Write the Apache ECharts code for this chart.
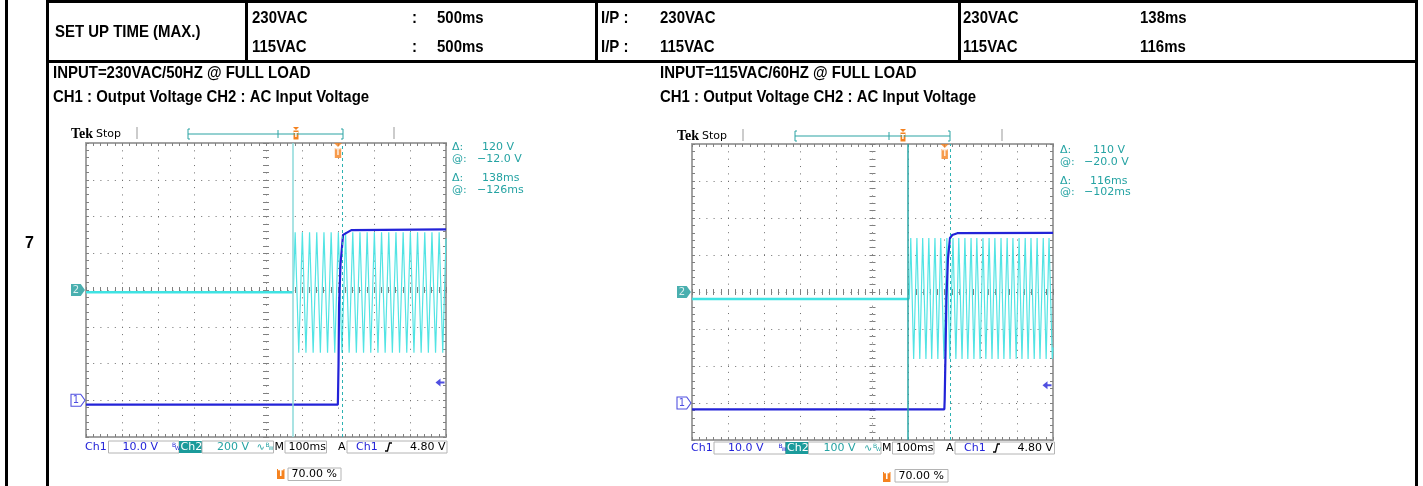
<!DOCTYPE html>
<html><head><meta charset="utf-8">
<script src="https://cdn.jsdelivr.net/npm/echarts@6/dist/echarts.min.js"></script>
<style>html,body{margin:0;padding:0;background:#fff}#c{width:1423px;height:486px}</style>
</head><body><div id="c"></div>
<script>
// ---------------- DATA ----------------
// time axis (ms, trigger at 0, 100 ms/div, trigger position 70 %)
const timeRange = [-700, 300];
const timeStep = 100;
// CH1 output voltage axis (10 V/div, ground 1 div above bottom)
const ch1Range = [-10, 70];
const ch1Step = 10;
// CH2 AC input voltage axes
const ch2RangeLeft = [-800, 800];   // 200 V/div
const ch2StepLeft = 200;
const ch2RangeRight = [-400, 400];  // 100 V/div
const ch2StepRight = 100;

// 230VAC / 50Hz scope
const ch1Left = [[-700,-1.2],[-0.5,-1.2],[0,1],[1.5,10],[3,26],[7,37],[14,45],[18,45.5],[37,46.3],[300,46.5]];
const ch2LeftIdle = [[-700,-12],[-124,-12]];
const ch2LeftAC = [[-124,-12],[-119,314],[-109,-341],[-99,314],[-89,-341],[-79,314],[-69,-341],[-59,314],[-49,-341],[-39,314],[-29,-341],[-19,314],[-9,-341],[1,314],[11,-341],[21,314],[31,-341],[41,314],[51,-341],[61,314],[71,-341],[81,314],[91,-341],[101,314],[111,-341],[121,314],[131,-341],[141,314],[151,-341],[161,314],[171,-341],[181,314],[191,-341],[201,314],[211,-341],[221,314],[231,-341],[241,314],[251,-341],[261,314],[271,-341],[281,314],[291,-341],[300,280]];
const cursorsLeft = [-126, 12];

// 115VAC / 60Hz scope
const ch1Right = [[-700,-1.7],[-1,-1.7],[0,1],[2,12],[4.7,28],[9,39],[14.7,44.6],[21,45.4],[35,45.9],[300,46]];
const ch2RightIdle = [[-700,-19],[-98,-19]];
const ch2RightAC = [[-98,-19],[-94,146],[-86,-181],[-77,146],[-69,-181],[-61,146],[-52,-181],[-44,146],[-36,-181],[-27,146],[-19,-181],[-11,146],[-2,-181],[6,146],[14,-181],[23,146],[31,-181],[39,146],[48,-181],[56,146],[64,-181],[73,146],[81,-181],[89,146],[98,-181],[106,146],[114,-181],[123,146],[131,-181],[139,146],[148,-181],[156,146],[164,-181],[173,146],[181,-181],[189,146],[198,-181],[206,146],[214,-181],[223,146],[231,-181],[239,146],[248,-181],[256,146],[264,-181],[273,146],[281,-181],[289,146],[298,-181],[300,-150]];
const cursorsRight = [-102, 14];

const triggerTime = 0;
const triggerLevel = 4.8;

// texts
const rowNumber = '7';
const setupLabel = 'SET UP TIME (MAX.)';
const setupSpecVolt = ['230VAC', '115VAC'];
const setupSpecTime = ['500ms', '500ms'];
const setupIP = ['230VAC', '115VAC'];
const setupMeasVolt = ['230VAC', '115VAC'];
const setupMeasTime = ['138ms', '116ms'];
const captionLeft = ['INPUT=230VAC/50HZ @ FULL LOAD', 'CH1 : Output Voltage CH2 : AC Input Voltage'];
const captionRight = ['INPUT=115VAC/60HZ @ FULL LOAD', 'CH1 : Output Voltage CH2 : AC Input Voltage'];
const readLeft = [['Δ:', '120 V'], ['@:', '−12.0 V'], ['Δ:', '138ms'], ['@:', '−126ms']];
const readRight = [['Δ:', '110 V'], ['@:', '−20.0 V'], ['Δ:', '116ms'], ['@:', '−102ms']];
const bottomLeft = { ch1: '10.0 V', ch2: '200 V', tb: '100ms', trig: '4.80 V', pos: '70.00 %' };
const bottomRight = { ch1: '10.0 V', ch2: '100 V', tb: '100ms', trig: '4.80 V', pos: '70.00 %' };

// ---------------- STYLE ----------------
const BLUE = '#2323d8', CYAN = '#3fe3e3', TEAL = '#1b9b9b', TEALTXT = '#25a3a3', ORANGE = '#f5821f';
const TF = "'Liberation Sans',Arial,sans-serif";
const SF = "'DejaVu Sans',sans-serif";

function T(x, y, s, o, el) {
  return Object.assign({ type: 'text', x: x, y: y, silent: true, z: 10,
    style: Object.assign({ text: s, fontFamily: SF, fontSize: 11, fill: '#000',
      align: 'left', verticalAlign: 'middle', textAlign: 'left', textVerticalAlign: 'middle' }, o || {}) }, el || {});
}
function R(x, y, w, h, o) {
  return { type: 'rect', silent: true, z: 5, shape: { x: x, y: y, width: w, height: h }, style: Object.assign({ fill: '#000' }, o || {}) };
}
function L(x1, y1, x2, y2, o) {
  return { type: 'line', silent: true, z: 6, shape: { x1: x1, y1: y1, x2: x2, y2: y2 }, style: Object.assign({ stroke: '#888', lineWidth: 1 }, o || {}) };
}
function PL(pts, o) {
  return { type: 'polyline', silent: true, z: 6, shape: { points: pts }, style: Object.assign({ stroke: '#000', lineWidth: 1, fill: null }, o || {}) };
}
function PG(pts, o) {
  return { type: 'polygon', silent: true, z: 6, shape: { points: pts }, style: Object.assign({ fill: ORANGE }, o || {}) };
}

// ---------------- SCOPES ----------------
const grids = [], xAxes = [], yAxes = [], series = [];
const frameLine = { show: true, onZero: false, lineStyle: { color: '#a2a2a2', width: 2 } };
const tickIn = { show: true, inside: true, length: 3, lineStyle: { color: '#808080', width: 1 } };
const minorIn = { show: true, splitNumber: 5, length: 3, lineStyle: { color: '#808080', width: 1 } };
const noLabel = { show: false };

function addScope(s, g, ch1, idle, ac, ch2Range, ch2Step, cursors, cursorColor) {
  const gi = 2 * s, ai = 4 * s;
  grids.push({ left: g.x, top: g.y, width: g.w, height: g.h, containLabel: false, outerBoundsMode: 'none' });
  grids.push({ left: g.x, top: g.y, width: g.w, height: g.h, containLabel: false, outerBoundsMode: 'none' });
  xAxes.push({ type: 'value', gridIndex: gi, min: timeRange[0], max: timeRange[1], interval: timeStep, position: 'bottom',
    axisLine: frameLine, axisTick: tickIn, minorTick: minorIn, axisLabel: noLabel,
    splitLine: { show: true, lineStyle: { color: '#6e6e6e', width: 1, type: [1, 6.35] } } });
  xAxes.push({ type: 'value', gridIndex: gi, min: timeRange[0], max: timeRange[1], interval: timeStep, position: 'top',
    axisLine: frameLine, axisTick: tickIn, minorTick: minorIn, axisLabel: noLabel, splitLine: { show: false } });
  const cTick = { show: true, inside: true, length: 3, lineStyle: { color: '#808080', width: 1 } };
  xAxes.push({ type: 'value', gridIndex: gi + 1, min: -5, max: 5, interval: 1, position: 'bottom',
    axisLine: { show: false, onZero: true, onZeroAxisIndex: ai + 2 }, axisTick: cTick, minorTick: minorIn, axisLabel: noLabel, splitLine: { show: false } });
  xAxes.push({ type: 'value', gridIndex: gi + 1, min: -5, max: 5, interval: 1, position: 'top',
    axisLine: { show: false, onZero: true, onZeroAxisIndex: ai + 3 }, axisTick: cTick, minorTick: minorIn, axisLabel: noLabel, splitLine: { show: false } });
  yAxes.push({ type: 'value', gridIndex: gi, min: ch1Range[0], max: ch1Range[1], interval: ch1Step, position: 'left',
    axisLine: frameLine, axisTick: tickIn, minorTick: minorIn, axisLabel: noLabel,
    splitLine: { show: true, lineStyle: { color: '#6e6e6e', width: 1, type: [1, 6.2] } } });
  yAxes.push({ type: 'value', gridIndex: gi, min: ch2Range[0], max: ch2Range[1], interval: ch2Step, position: 'right',
    axisLine: frameLine, axisTick: tickIn, minorTick: minorIn, axisLabel: noLabel, splitLine: { show: false } });
  yAxes.push({ type: 'value', gridIndex: gi + 1, min: -4, max: 4, interval: 1, position: 'left',
    axisLine: { show: false, onZero: true, onZeroAxisIndex: ai + 2 }, axisTick: cTick, minorTick: minorIn, axisLabel: noLabel, splitLine: { show: false } });
  yAxes.push({ type: 'value', gridIndex: gi + 1, min: -4, max: 4, interval: 1, position: 'right',
    axisLine: { show: false, onZero: true, onZeroAxisIndex: ai + 3 }, axisTick: cTick, minorTick: minorIn, axisLabel: noLabel, splitLine: { show: false } });

  series.push({ type: 'line', xAxisIndex: ai, yAxisIndex: ai + 1, data: idle, showSymbol: false, silent: true,
    lineStyle: { color: CYAN, width: 2.5 }, z: 2,
    markLine: { silent: true, symbol: ['none', 'none'], label: { show: false },
      data: [
        { xAxis: cursors[0], lineStyle: { color: cursorColor, width: 1.5, type: 'solid' } },
        { xAxis: cursors[1], lineStyle: { color: '#2cb2b2', width: 1, type: [3, 3] } }
      ] } });
  series.push({ type: 'line', xAxisIndex: ai, yAxisIndex: ai + 1, data: ac, showSymbol: false, silent: true,
    lineStyle: { color: '#52e4e4', width: 1.2 }, z: 2 });
  series.push({ type: 'line', xAxisIndex: ai, yAxisIndex: ai, data: ch1, showSymbol: false, silent: true,
    lineStyle: { color: BLUE, width: 2.2 }, z: 3 });
  series.push({ type: 'scatter', xAxisIndex: ai, yAxisIndex: ai, clip: false, silent: true, z: 6,
    data: [[triggerTime, ch1Range[1]]],
    symbol: 'path://M0,0L8,0L4,4ZM0.8,5L7.2,5L7.2,15L0.8,15Z', symbolSize: [8, 15], symbolOffset: [0, 7.5],
    itemStyle: { color: ORANGE },
    label: { show: true, formatter: 'T', position: 'inside', offset: [0, 2.5], color: '#fff', fontSize: 8, fontWeight: 'bold', fontFamily: SF } });
  series.push({ type: 'scatter', xAxisIndex: ai, yAxisIndex: ai, clip: false, silent: true, z: 6,
    data: [[timeRange[1], triggerLevel]],
    symbol: 'path://M0,4L5,0L5,3L9,3L9,5L5,5L5,8Z', symbolSize: [9, 8], symbolOffset: [-6, 0],
    itemStyle: { color: BLUE } });
  series.push({ type: 'scatter', xAxisIndex: ai, yAxisIndex: ai, clip: false, silent: true, z: 6,
    data: [[timeRange[0], 0]],
    symbol: 'path://M0,0L9,0L13,6L9,12L0,12Z', symbolSize: [14, 12], symbolOffset: [-8, 0],
    itemStyle: { color: '#fff', borderColor: BLUE, borderWidth: 1 },
    label: { show: true, formatter: '1', position: 'inside', offset: [-2, 0], color: BLUE, fontSize: 10, fontFamily: SF } });
  series.push({ type: 'scatter', xAxisIndex: ai, yAxisIndex: ai + 1, clip: false, silent: true, z: 6,
    data: [[timeRange[0], 0]],
    symbol: 'path://M0,0L9,0L13,6L9,12L0,12Z', symbolSize: [14, 12], symbolOffset: [-8, 0],
    itemStyle: { color: TEAL },
    label: { show: true, formatter: '2', position: 'inside', offset: [-2, 0], color: '#fff', fontSize: 10, fontFamily: SF } });
}

const GL = { x: 86, y: 143, w: 360, h: 294 };
const GR = { x: 692, y: 144, w: 361, h: 296 };
addScope(0, GL, ch1Left, ch2LeftIdle, ch2LeftAC, ch2RangeLeft, ch2StepLeft, cursorsLeft, '#8ddada');
addScope(1, GR, ch1Right, ch2RightIdle, ch2RightAC, ch2RangeRight, ch2StepRight, cursorsRight, '#2aa6a6');

// ---------------- GRAPHICS (table + scope annotations) ----------------
const G = [];
G.push(R(5, 0, 3, 486), R(46, 0, 3, 486), R(1415, 0, 3, 486));
G.push(R(46, 0, 1372, 3), R(46, 60, 1372, 3));
G.push(R(245, 0, 3, 62), R(595, 0, 3, 62), R(958, 0, 3, 62));
const tb = { fontFamily: TF, fontWeight: 'bold', fontSize: 17 };
const narrow = { scaleX: 0.88 };
G.push(T(25, 244, rowNumber, Object.assign({}, tb, { fontSize: 16 })));
G.push(T(55, 32, setupLabel, tb, narrow));
[18, 47].forEach(function (y, i) {
  G.push(T(252, y, setupSpecVolt[i], tb, narrow), T(412, y, ':', tb, narrow), T(437, y, setupSpecTime[i], tb, narrow));
  G.push(T(601, y, 'I/P :', tb, narrow), T(660, y, setupIP[i], tb, narrow));
  G.push(T(963, y, setupMeasVolt[i], tb, narrow), T(1140, y, setupMeasTime[i], tb, narrow));
});
G.push(T(53, 73, captionLeft[0], tb, narrow), T(53, 97, captionLeft[1], tb, narrow));
G.push(T(660, 73, captionRight[0], tb, narrow), T(660, 97, captionRight[1], tb, narrow));

function scopeDecor(o) {
  G.push(T(o.tek, o.sy, 'Tek', { fontFamily: "'Liberation Serif',serif", fontWeight: 'bold', fontSize: 14 }));
  G.push(T(o.tek + 25, o.sy, 'Stop', { fontSize: 11 }));
  G.push(L(o.sep1, o.sy - 7, o.sep1, o.sy + 5, { stroke: '#999' }), L(o.sep2, o.sy - 7, o.sep2, o.sy + 5, { stroke: '#999' }));
  const bc = { stroke: '#2aa3a3', lineWidth: 1 };
  G.push(L(o.b1, o.sy, o.b2, o.sy, bc));
  G.push(PL([[o.b1 + 2, o.sy - 5], [o.b1, o.sy - 5], [o.b1, o.sy + 5], [o.b1 + 2, o.sy + 5]], bc));
  G.push(PL([[o.b2 - 2, o.sy - 5], [o.b2, o.sy - 5], [o.b2, o.sy + 5], [o.b2 - 2, o.sy + 5]], bc));
  G.push(L(o.bt, o.sy - 4, o.bt, o.sy + 4, bc));
  G.push(PG([[o.bT - 3, o.sy - 7], [o.bT + 3, o.sy - 7], [o.bT, o.sy - 4]]));
  G.push(R(o.bT - 2.5, o.sy - 3.5, 5, 9, { fill: ORANGE }));
  G.push(T(o.bT, o.sy + 1, 'T', { fontSize: 7, fill: '#fff', fontWeight: 'bold', align: 'center', textAlign: 'center' }));
  o.read.forEach(function (r, i) {
    G.push(T(o.rx, o.ry[i], r[0], { fill: TEALTXT }));
    G.push(T(o.rv[i], o.ry[i], r[1], { fill: TEALTXT }));
  });
  const y = o.by, yt = o.by + 6, bs = { fill: '#fff', stroke: '#b4b4b4', lineWidth: 1 };
  const b = o.bx;
  G.push(T(b.ch1, yt, 'Ch1', { fill: BLUE }));
  G.push(R(b.box1[0], y, b.box1[1], 12, bs));
  G.push(T(b.box1[0] + 14, yt, o.bot.ch1, { fill: BLUE }));
  G.push(T(b.box1[0] + b.box1[1] - 7, y + 4, 'B', { fill: BLUE, fontSize: 6 }), T(b.box1[0] + b.box1[1] - 4, y + 8, 'W', { fill: BLUE, fontSize: 5 }));
  G.push(R(b.box1[0] + b.box1[1], y, 23, 12, { fill: TEAL }));
  G.push(T(b.box1[0] + b.box1[1] + 1.5, yt, 'Ch2', { fill: '#fff' }));
  const x2 = b.box1[0] + b.box1[1] + 23;
  G.push(R(x2, y, b.box2, 12, bs));
  G.push(T(x2 + 15, yt, o.bot.ch2, { fill: TEALTXT }));
  G.push(T(x2 + b.box2 - 17, yt, '∿', { fill: TEALTXT, fontSize: 10 }));
  G.push(T(x2 + b.box2 - 8, y + 4, 'B', { fill: TEALTXT, fontSize: 6 }), T(x2 + b.box2 - 5, y + 8, 'W', { fill: TEALTXT, fontSize: 5 }));
  G.push(T(x2 + b.box2 + 1, yt, 'M'));
  G.push(R(b.box3[0], y, b.box3[1], 12, bs));
  G.push(T(b.box3[0] + 3.5, yt, o.bot.tb));
  G.push(T(b.a, yt, 'A'));
  G.push(R(b.box4[0], y, b.box4[1], 12, bs));
  G.push(T(b.box4[0] + 9, yt, 'Ch1', { fill: BLUE }));
  const sx = b.box4[0] + 38;
  G.push(PL([[sx, y + 10], [sx + 2.5, y + 10], [sx + 4.5, y + 2], [sx + 7, y + 2]], { lineWidth: 1.3 }));
  G.push(T(b.box4[0] + b.box4[1] - 1.5, yt, o.bot.trig, { align: 'right', textAlign: 'right' }));
  G.push(R(b.tpos[0], b.tpos[1], 7.5, 10, { fill: ORANGE, r: 1 }));
  G.push(T(b.tpos[0] + 3.75, b.tpos[1] + 5, 'T', { fill: '#fff', fontSize: 8, fontWeight: 'bold', align: 'center', textAlign: 'center' }));
  G.push(R(b.pbox[0], b.pbox[1], 53, 12.5, bs));
  G.push(T(b.pbox[0] + 3.5, b.pbox[1] + 6.5, o.bot.pos));
}
scopeDecor({ tek: 71, sy: 134, sep1: 137, sep2: 394, b1: 188, b2: 343, bt: 278, bT: 296,
  read: readLeft, rx: 452, ry: [147, 159, 178, 190], rv: [482, 477, 482, 477],
  by: 441, bot: bottomLeft,
  bx: { ch1: 85, box1: [108.5, 70.5], box2: 71.5, box3: [285, 41.5], a: 338, box4: [347, 100], tpos: [277, 469], pbox: [288, 468] } });
scopeDecor({ tek: 677, sy: 136, sep1: 743, sep2: 1002, b1: 795, b2: 950, bt: 889, bT: 903,
  read: readRight, rx: 1060, ry: [150, 162, 181, 192], rv: [1093, 1084, 1090, 1084],
  by: 442, bot: bottomRight,
  bx: { ch1: 691, box1: [714, 71.5], box2: 72.5, box3: [892.5, 41.5], a: 946, box4: [955, 99.5], tpos: [883, 472], pbox: [895, 469.5] } });

const chart = echarts.init(document.getElementById('c'), null, { renderer: 'canvas' });
chart.setOption({
  animation: false,
  backgroundColor: '#fff',
  grid: grids, xAxis: xAxes, yAxis: yAxes, series: series,
  graphic: { elements: G }
});
</script></body></html>
